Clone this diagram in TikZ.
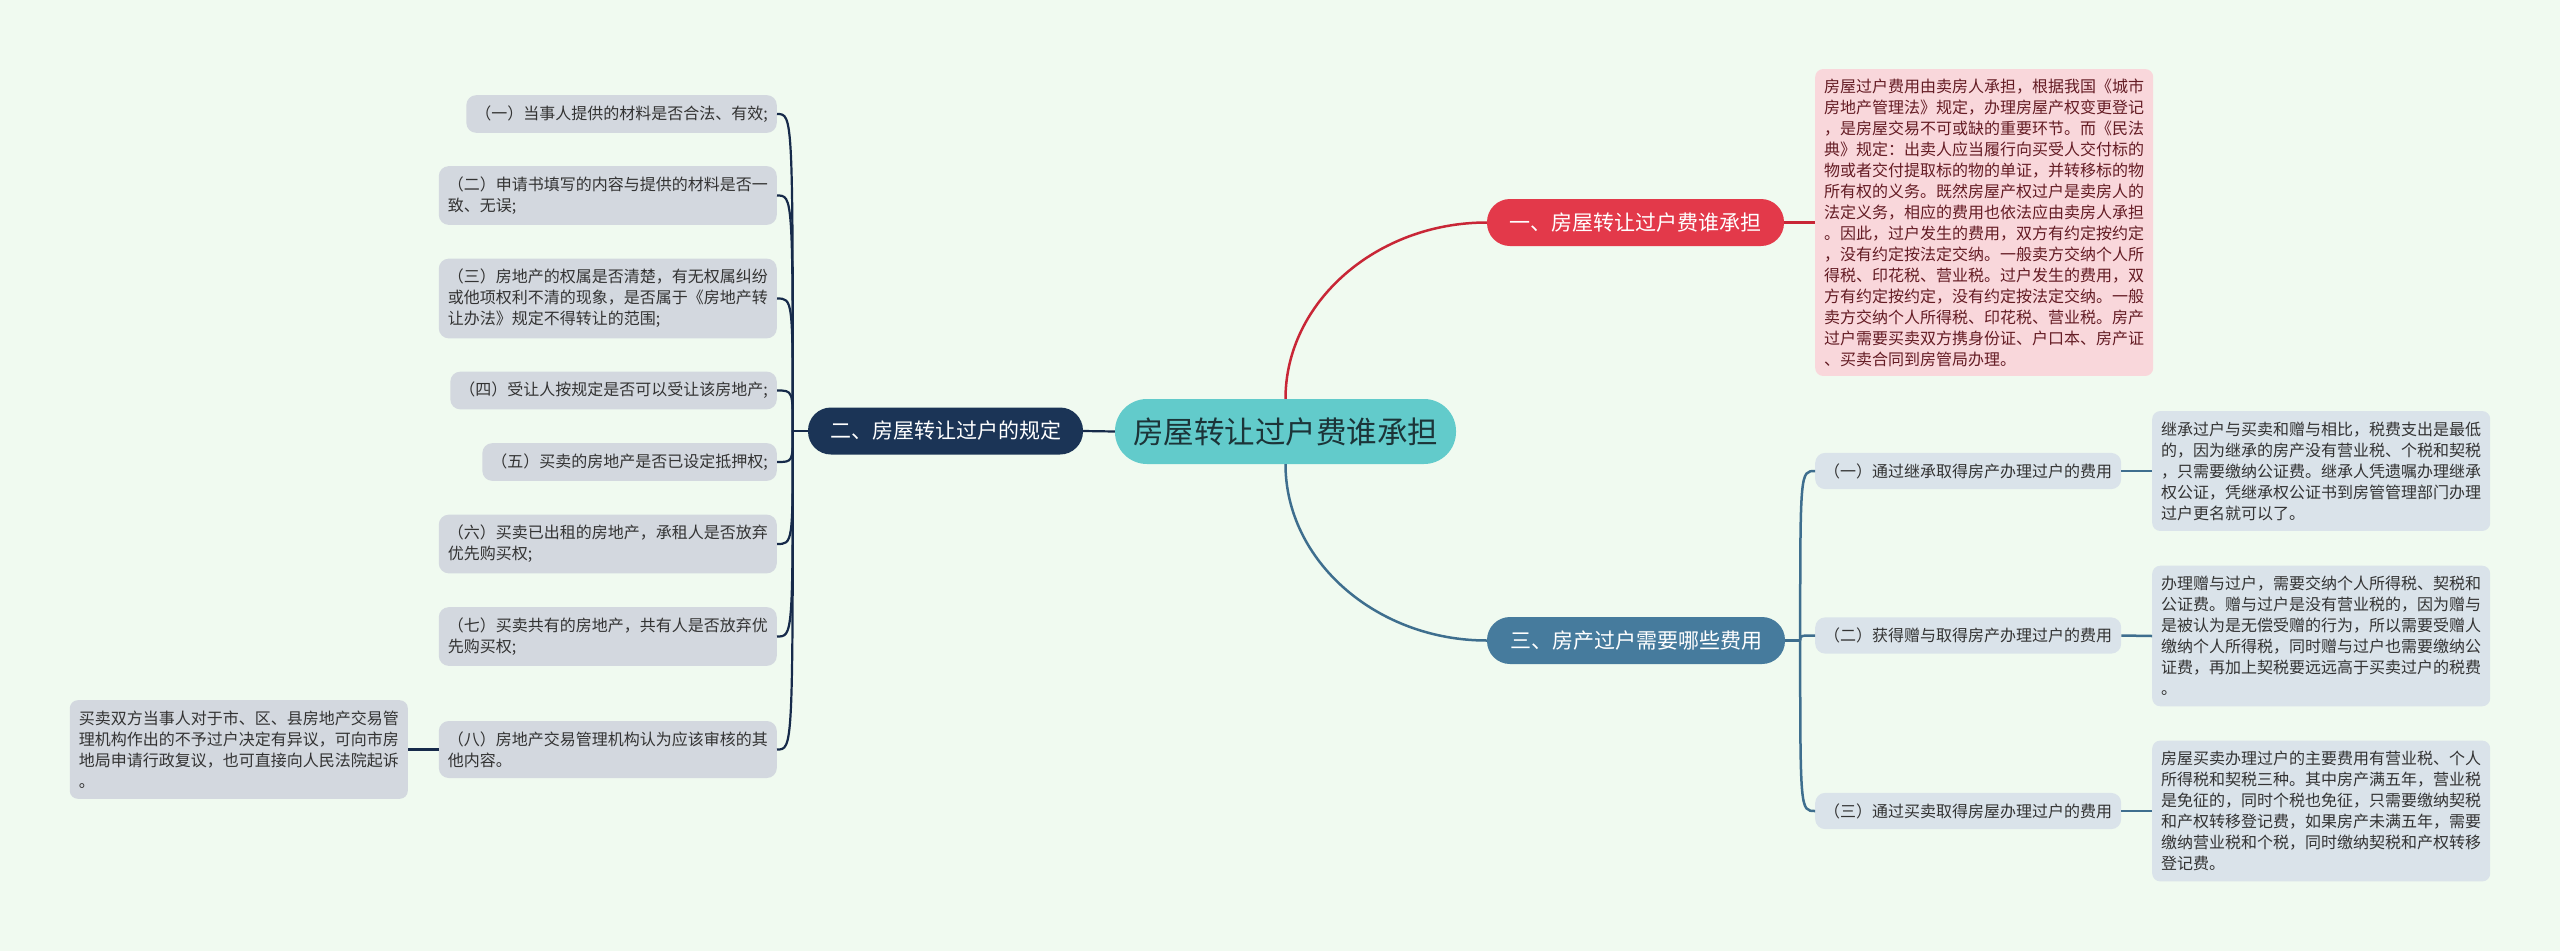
\documentclass[tikz,border=0pt]{standalone}
\usepackage{fontspec}
\newfontfamily\cjk{Noto Sans CJK SC}
\usetikzlibrary{calc}
\definecolor{bgc}{RGB}{240,250,240}
\definecolor{rootc}{RGB}{98,203,203}
\definecolor{roottxt}{RGB}{28,52,56}
\definecolor{redc}{RGB}{227,57,74}
\definecolor{redln}{RGB}{200,38,54}
\definecolor{navyc}{RGB}{27,52,86}
\definecolor{navyln}{RGB}{22,42,74}
\definecolor{steelc}{RGB}{70,123,157}
\definecolor{steelln}{RGB}{62,110,142}
\definecolor{grayc}{RGB}{211,216,223}
\definecolor{bluec}{RGB}{218,227,234}
\definecolor{pinkc}{RGB}{249,215,219}
\definecolor{pinktxt}{RGB}{100,28,36}
\definecolor{txt}{RGB}{51,51,51}

\begin{document}
\begin{tikzpicture}[x=1pt,y=-1pt,
  rootbox/.style={fill=rootc,text=roottxt,rounded corners=32pt,inner sep=0pt,
    minimum width=341pt,minimum height=65pt,font=\cjk\fontsize{30.5}{36}\selectfont},
  topic/.style={text=white,rounded corners=23pt,inner sep=0pt,
    minimum width=#1,minimum height=47pt,font=\cjk\fontsize{21}{25}\selectfont},
  itembox/.style={fill=grayc,text=txt,rounded corners=10pt,align=left,
    inner xsep=9pt,inner ysep=10.5pt,font=\cjk\fontsize{16}{21}\selectfont},
  subbox/.style={itembox,fill=bluec},
  leafbox/.style={itembox,rounded corners=8pt},
  memobox/.style={leafbox,fill=pinkc,text=pinktxt,inner ysep=9.5pt},
  redline/.style={redln,line width=2.5pt},
  navyline/.style={navyln,line width=2.2pt},
  steelline/.style={steelln,line width=2.5pt}]
  \fill[bgc] (0,0) rectangle (2560,951);
  \useasboundingbox (0,0) rectangle (2560,951);

  \node[rootbox] (root) at (1285.5,431.5) {房屋转让过户费谁承担};
  \node[topic=297pt,fill=redc] (t1) at (1635.5,222.5) {一、房屋转让过户费谁承担};
  \node[topic=275pt,fill=navyc] (t2) at (945.5,431) {二、房屋转让过户的规定};
  \node[topic=298pt,fill=steelc] (t3) at (1636,640.5) {三、房产过户需要哪些费用};

  \node[memobox,anchor=west] (m1) at (1815,222.5) {房屋过户费用由卖房人承担，根据我国《城市\\
    房地产管理法》规定，办理房屋产权变更登记\\
    ，是房屋交易不可或缺的重要环节。而《民法\\
    典》规定：出卖人应当履行向买受人交付标的\\
    物或者交付提取标的物的单证，并转移标的物\\
    所有权的义务。既然房屋产权过户是卖房人的\\
    法定义务，相应的费用也依法应由卖房人承担\\
    。因此，过户发生的费用，双方有约定按约定\\
    ，没有约定按法定交纳。一般卖方交纳个人所\\
    得税、印花税、营业税。过户发生的费用，双\\
    方有约定按约定，没有约定按法定交纳。一般\\
    卖方交纳个人所得税、印花税、营业税。房产\\
    过户需要买卖双方携身份证、户口本、房产证\\
    、买卖合同到房管局办理。};

  \node[itembox,anchor=east] (a1) at (777,114) {（一）当事人提供的材料是否合法、有效;};
  \node[itembox,anchor=east] (a2) at (777,195.5) {（二）申请书填写的内容与提供的材料是否一\\致、无误;};
  \node[itembox,anchor=east] (a3) at (777,298.5) {（三）房地产的权属是否清楚，有无权属纠纷\\
    或他项权利不清的现象，是否属于《房地产转\\让办法》规定不得转让的范围;};
  \node[itembox,anchor=east] (a4) at (777,390.5) {（四）受让人按规定是否可以受让该房地产;};
  \node[itembox,anchor=east] (a5) at (777,462) {（五）买卖的房地产是否已设定抵押权;};
  \node[itembox,anchor=east] (a6) at (777,544) {（六）买卖已出租的房地产，承租人是否放弃\\优先购买权;};
  \node[itembox,anchor=east] (a7) at (777,636.5) {（七）买卖共有的房地产，共有人是否放弃优\\先购买权;};
  \node[itembox,anchor=east] (a8) at (777,749.5) {（八）房地产交易管理机构认为应该审核的其\\他内容。};
  \node[leafbox,anchor=east] (l8) at (408,749.5) {买卖双方当事人对于市、区、县房地产交易管\\
    理机构作出的不予过户决定有异议，可向市房\\
    地局申请行政复议，也可直接向人民法院起诉\\
    。};

  \node[subbox,anchor=west] (b1) at (1815,471) {（一）通过继承取得房产办理过户的费用};
  \node[subbox,anchor=west] (b2) at (1815,635.5) {（二）获得赠与取得房产办理过户的费用};
  \node[subbox,anchor=west] (b3) at (1815,811) {（三）通过买卖取得房屋办理过户的费用};
  \node[subbox,rounded corners=8pt,anchor=west] (c1) at (2152,471) {继承过户与买卖和赠与相比，税费支出是最低\\
    的，因为继承的房产没有营业税、个税和契税\\
    ，只需要缴纳公证费。继承人凭遗嘱办理继承\\
    权公证，凭继承权公证书到房管管理部门办理\\
    过户更名就可以了。};
  \node[subbox,rounded corners=8pt,anchor=west] (c2) at (2152,636) {办理赠与过户，需要交纳个人所得税、契税和\\
    公证费。赠与过户是没有营业税的，因为赠与\\
    是被认为是无偿受赠的行为，所以需要受赠人\\
    缴纳个人所得税，同时赠与过户也需要缴纳公\\
    证费，再加上契税要远远高于买卖过户的税费\\
    。};
  \node[subbox,rounded corners=8pt,anchor=west] (c3) at (2152,811) {房屋买卖办理过户的主要费用有营业税、个人\\
    所得税和契税三种。其中房产满五年，营业税\\
    是免征的，同时个税也免征，只需要缴纳契税\\
    和产权转移登记费，如果房产未满五年，需要\\
    缴纳营业税和个税，同时缴纳契税和产权转移\\
    登记费。};

  \draw[redline] (root.north) .. controls +(0,-97) and +(-110,0) .. (t1.west);
  \draw[redline] (t1.east) -- (m1.west);
  \draw[navyline] (root.west) -- (t2.east);
  \draw[steelline] (root.south) .. controls +(0,97) and +(-110,0) .. (t3.west);

  \coordinate (ls) at ($(t2.west)+(-15,0)$);
  \draw[navyline] (t2.west) -- (ls);
  \foreach \c in {a1,a2,a3,a4,a5,a6,a7,a8}
    \draw[navyline] (ls) .. controls (ls |- \c.east) .. (\c.east);
  \draw[navyline] (a8.west) -- (l8.east);

  \coordinate (rs) at ($(t3.east)+(15,0)$);
  \draw[steelline] (t3.east) -- (rs);
  \foreach \c/\l in {b1/c1,b2/c2,b3/c3} {
    \draw[steelline] (rs) .. controls (rs |- \c.west) .. (\c.west);
    \draw[steelline] (\c.east) -- (\l.west);
  }
\end{tikzpicture}
\end{document}
